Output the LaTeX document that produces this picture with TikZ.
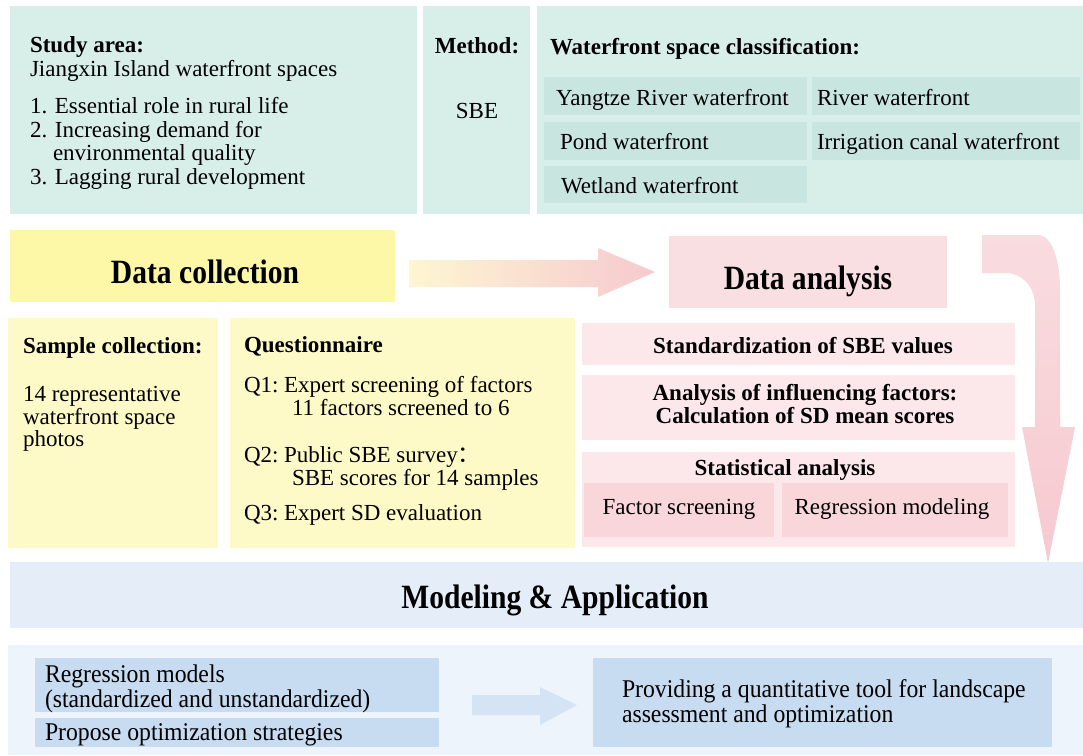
\documentclass[tikz,border=0pt]{standalone}
\usepackage{fontspec}
\setmainfont{Liberation Serif}
\newfontfamily\condfont[FakeStretch=0.87]{Liberation Serif}
\newfontfamily\bcondfont[FakeStretch=0.93]{Liberation Serif}
\newfontfamily\cjkfont{Noto Sans CJK SC}
\usetikzlibrary{fit}
\definecolor{teal0}{HTML}{D8EEE9}
\definecolor{teal1}{HTML}{C9E5DF}
\definecolor{yel0}{HTML}{FCF8A8}
\definecolor{yel1}{HTML}{FDFAC8}
\definecolor{pink0}{HTML}{F9DFE2}
\definecolor{pink1}{HTML}{FCE7EA}
\definecolor{pink2}{HTML}{F8D6DA}
\definecolor{pinkarrowA}{HTML}{F9DCE0}
\definecolor{pinkarrowB}{HTML}{F6C9CF}
\definecolor{arrowyel}{HTML}{FDF6D2}
\definecolor{blue0}{HTML}{E5EEF8}
\definecolor{blue1}{HTML}{EEF4FB}
\definecolor{blue2}{HTML}{C7DBF1}
\definecolor{bluearrow}{HTML}{D5E4F4}
\begin{document}
\begin{tikzpicture}[x=1pt,y=-1pt,
  bx/.style={inner sep=0pt, outer sep=0pt, draw=none},
  lt/.style={inner sep=0pt, outer sep=0pt, anchor=base west, font=\fontsize{23}{25}\selectfont},
  ct/.style={inner sep=0pt, outer sep=0pt, anchor=base, font=\fontsize{23}{25}\selectfont},
  lb/.style={lt, font=\fontsize{23}{25}\selectfont\bfseries},
  cb/.style={ct, font=\fontsize{23}{25}\selectfont\bfseries},
  title/.style={inner sep=0pt, outer sep=0pt, anchor=base, font=\fontsize{34}{36}\selectfont\condfont\bfseries},
  bt/.style={inner sep=0pt, outer sep=0pt, anchor=base west, font=\fontsize{25.5}{27}\selectfont\bcondfont}
]
\useasboundingbox[fill=white] (0,0) rectangle (1083,755);

% top row
\node[bx, fill=teal0, fit={(10,6) (417,214)}] (sa) {};
\node[bx, fill=teal0, fit={(423,6) (530,214)}] (me) {};
\node[bx, fill=teal0, fit={(537,6) (1083,214)}] (cl) {};
\node[bx, fill=teal1, fit={(544,77) (807,115)}] (ya) {};
\node[bx, fill=teal1, fit={(812,77) (1080,115)}] (rv) {};
\node[bx, fill=teal1, fit={(544,122) (807,160)}] (po) {};
\node[bx, fill=teal1, fit={(812,122) (1080,160)}] (ir) {};
\node[bx, fill=teal1, fit={(544,166) (807,203)}] (we) {};

\node[lb] (sah) at (30,52) {Study area:};
\node[lt] (sa0) at (30,76) {Jiangxin Island waterfront spaces};
\node[lt] (sa1) at (30,113) {1. Essential role in rural life};
\node[lt] (sa2) at (30,137) {2. Increasing demand for};
\node[lt] (sa3) at (53,160) {environmental quality};
\node[lt] (sa4) at (30,184) {3. Lagging rural development};

\node[cb] (meh) at (477,53) {Method:};
\node[ct] (me1) at (477,118) {SBE};

\node[lb] (clh) at (550,54) {Waterfront space classification:};
\node[lt] at (556,105) {Yangtze River waterfront};
\node[lt] at (817,105) {River waterfront};
\node[lt] at (560,149) {Pond waterfront};
\node[lt] at (817,149) {Irrigation canal waterfront};
\node[lt] at (561,193) {Wetland waterfront};

% middle row
\node[bx, fill=yel0, fit={(10,230) (395,302)}] (dc) {};
\node[bx, fill=pink0, fit={(669,236) (947,308)}] (da) {};
\node[title] at (205,283) {Data collection};
\node[title] at (808,289) {Data analysis};

\shade[left color=arrowyel, right color=pinkarrowB]
  (409,260) -- (598,260) -- (598,248) -- (655,272) -- (598,297) -- (598,287) -- (409,287) -- cycle;

\shade[top color=pinkarrowA, bottom color=pinkarrowB]
  (982,235) -- (1040,235) .. controls (1053,238) and (1060,262) .. (1060,290)
  -- (1060,427) -- (1075,427) -- (1048,563) -- (1022,427) -- (1035,427)
  -- (1035,305) .. controls (1035,287) and (1022,273) .. (1005,273) -- (982,273) -- cycle;

% collection boxes
\node[bx, fill=yel1, fit={(8,318) (218,548)}] (sc) {};
\node[bx, fill=yel1, fit={(230,318) (575,548)}] (qu) {};
\node[lb] at (23,353) {Sample collection:};
\node[lt] at (23,401) {14 representative};
\node[lt] at (23,424) {waterfront space};
\node[lt] at (23,446) {photos};

\node[lb] at (244,352) {Questionnaire};
\node[lt] at (244,392) {Q1:};
\node[lt] at (284,392) {Expert screening of factors};
\node[lt] at (292,415) {11 factors screened to 6};
\node[lt] at (244,462) {Q2:};
\node[lt] at (284,462) {Public SBE survey{\cjkfont ：}};
\node[lt] at (292,485) {SBE scores for 14 samples};
\node[lt] at (244,520) {Q3:};
\node[lt] at (284,520) {Expert SD evaluation};

% analysis boxes
\node[bx, fill=pink1, fit={(582,323) (1015,365)}] (st) {};
\node[bx, fill=pink1, fit={(582,375) (1015,440)}] (an) {};
\node[bx, fill=pink1, fit={(582,452) (1015,547)}] (sx) {};
\node[bx, fill=pink2, fit={(584,483) (774,537)}] (fs) {};
\node[bx, fill=pink2, fit={(782,483) (1008,537)}] (rm) {};
\node[cb] at (803,353) {Standardization of SBE values};
\node[cb] at (805,400) {Analysis of influencing factors:};
\node[cb] at (805,423) {Calculation of SD mean scores};
\node[cb] at (785,475) {Statistical analysis};
\node[ct] at (679,514) {Factor screening};
\node[ct] at (892,514) {Regression modeling};

% bottom
\node[bx, fill=blue0, fit={(10,562) (1083,628)}] (mo) {};
\node[title] at (555,608) {Modeling \& Application};
\node[bx, fill=blue1, fit={(8,645) (1083,755)}] (bc) {};
\node[bx, fill=blue2, fit={(35,658) (439,712)}] (rg) {};
\node[bx, fill=blue2, fit={(35,718) (439,747)}] (pr) {};
\node[bx, fill=blue2, fit={(593,658) (1052,747)}] (pv) {};
\node[bt] at (45,682) {Regression models};
\node[bt] at (45,707) {(standardized and unstandardized)};
\node[bt] at (45,740) {Propose optimization strategies};
\node[bt] at (622,697) {Providing a quantitative tool for landscape};
\node[bt] at (622,722) {assessment and optimization};
\fill[bluearrow] (472,695) -- (540,695) -- (540,687) -- (577,705) -- (540,725) -- (540,715) -- (472,715) -- cycle;
\end{tikzpicture}
\end{document}
